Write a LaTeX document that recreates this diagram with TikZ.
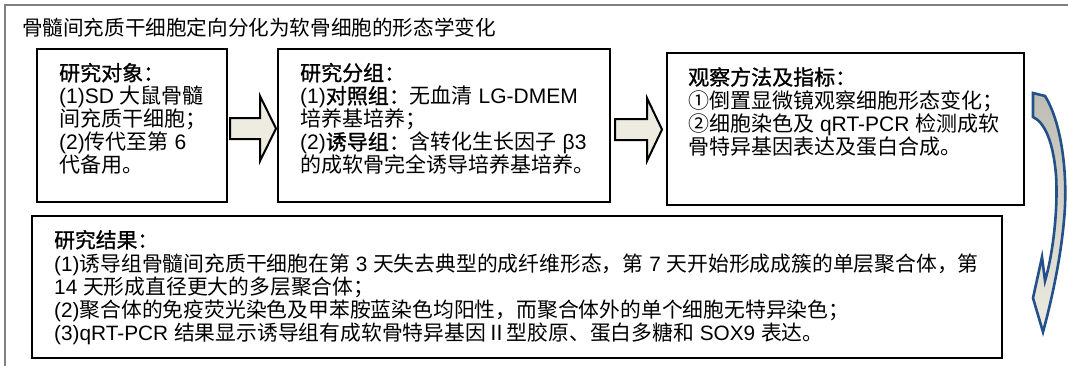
\documentclass[tikz,border=0pt]{standalone}
\usepackage{fontspec}
\setmainfont{Noto Sans CJK SC}
\newfontfamily\la{Liberation Sans}
\newfontfamily\hdfont{Noto Sans CJK SC}[FakeBold=1.2]
\newcommand\en[1]{{\la #1}}
\newcommand\hd[1]{{\hdfont #1}}
\newcommand\fl{\rule{0pt}{20pt}}
\definecolor{arrowfill}{HTML}{EEECE1}
\definecolor{curvetop}{HTML}{BDBDB3}
\definecolor{curveblue}{HTML}{24508A}
\definecolor{framegray}{HTML}{7F7F7F}
\tikzset{
  box/.style={draw=black, line width=2pt, inner sep=0pt},
  resbox/.style={draw=black, line width=2.8pt, inner sep=0pt},
  blockarrow/.style={draw=black, line width=2pt, fill=arrowfill, line join=miter},
  curvearrow/.style={draw=curveblue, line width=2.6pt, top color=curvetop, bottom color=arrowfill, line join=miter},
  txt/.style={anchor=north west, inner sep=0pt, align=left, font=\fontsize{21}{23}\selectfont},
  restxt/.style={anchor=north west, inner sep=0pt, align=left, font=\fontsize{20.8}{23.3}\selectfont},
  title/.style={anchor=base west, inner sep=0pt, font=\fontsize{20.6}{23}\selectfont}
}
\begin{document}
\begin{tikzpicture}[x=1pt,y=-1pt]
\useasboundingbox (0,0) rectangle (1068,365);
% outer frame
\draw[framegray, line width=1.3pt] (5,366) -- (5,5) -- (1069,5);
\node[title] (ttl) at (22,35.8) {骨髓间充质干细胞定向分化为软骨细胞的形态学变化};
% boxes
\node[box, minimum width=190pt, minimum height=153pt] (b1) at (132,125.5) {};
\node[box, minimum width=332pt, minimum height=153pt] (b2) at (444,125.5) {};
\node[box, minimum width=357pt, minimum height=152pt] (b3) at (845.5,129) {};
\node[resbox, minimum width=970pt, minimum height=142pt] (b4) at (517,287) {};
% texts
\node[txt] (t1) at (59,60.5) {\fl\hd{研究对象：}\\
\en{(1)SD }大鼠骨髓\\
间充质干细胞；\\
\en{(2)}传代至第\en{ 6}\\
代备用。};
\node[txt] (t2) at (300,60.5) {\fl\hd{研究分组：}\\
\en{(1)}\hd{对照组：}无血清\en{ LG-DMEM}\\
培养基培养；\\
\en{(2)}\hd{诱导组：}含转化生长因子\en{ β3}\\
的成软骨完全诱导培养基培养。};
\node[txt] (t3) at (688,64.8) {\fl\hd{观察方法及指标：}\\
①倒置显微镜观察细胞形态变化；\\
②细胞染色及\en{ qRT-PCR }检测成软\\
骨特异基因表达及蛋白合成。};
\node[restxt] (t4) at (54,227.5) {\fl\hd{研究结果：}\\
\en{(1)}诱导组骨髓间充质干细胞在第\en{ 3 }天失去典型的成纤维形态，第\en{ 7 }天开始形成成簇的单层聚合体，第\\
\en{14 }天形成直径更大的多层聚合体；\\
\en{(2)}聚合体的免疫荧光染色及甲苯胺蓝染色均阳性，而聚合体外的单个细胞无特异染色；\\
\en{(3)qRT-PCR }结果显示诱导组有成软骨特异基因Ⅱ型胶原、蛋白多糖和\en{ SOX9 }表达。};
% block arrows
\draw[blockarrow] (230,118) -- (260,118) -- (260,96) -- (276,128.5) -- (260,161) -- (260,139) -- (230,139) -- cycle;
\draw[blockarrow] (615,119) -- (647,119) -- (647,98) -- (662,129.5) -- (647,161) -- (647,140) -- (615,140) -- cycle;
% curved arrow
\path[curvearrow] (1033,93) -- (1045,96) .. controls (1063,125) and (1068,180) .. (1064,220)
  .. controls (1061,255) and (1053,295) .. (1043,332) -- (1033,298) -- (1042,257) -- (1045,281)
  .. controls (1054,250) and (1058,205) .. (1056,175) .. controls (1053,140) and (1044,122) .. (1033,117) -- cycle;
\end{tikzpicture}
\end{document}
